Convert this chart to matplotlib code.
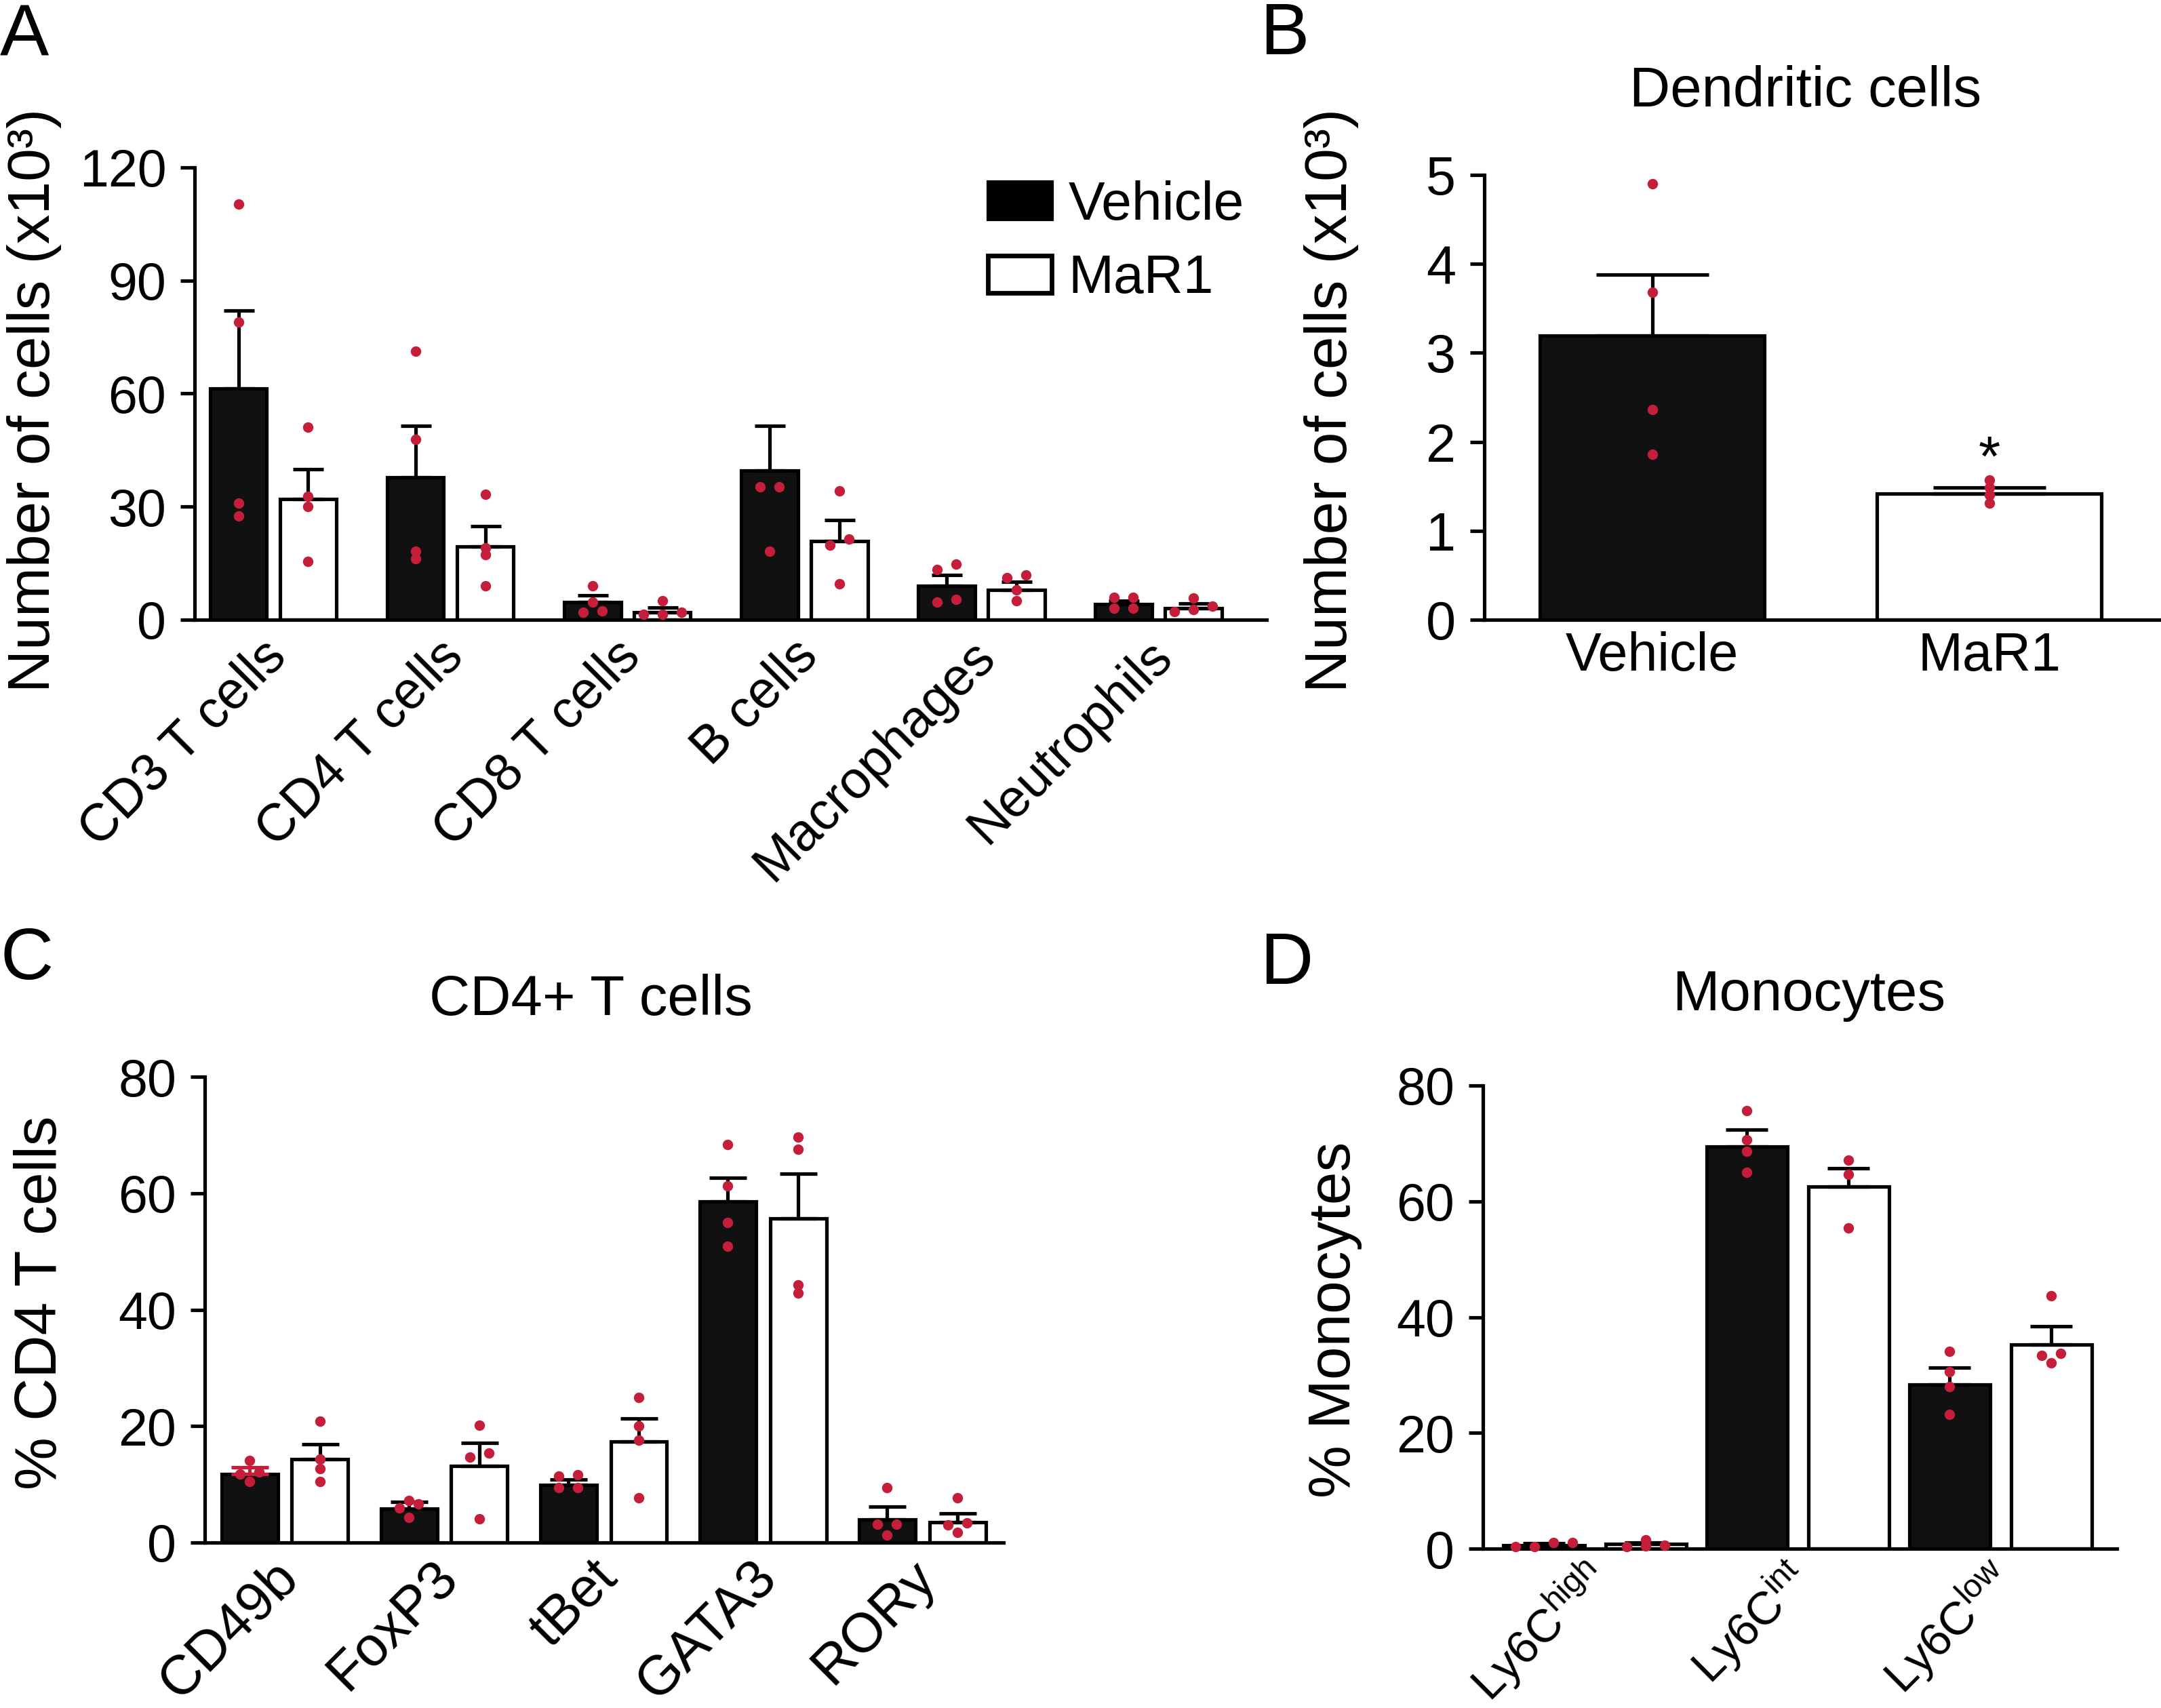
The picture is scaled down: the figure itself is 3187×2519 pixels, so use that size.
import matplotlib
matplotlib.use("Agg")
import matplotlib.pyplot as plt
import matplotlib.transforms as mtrans
import numpy as np
from matplotlib.patches import Patch

plt.rcParams["font.family"] = ["Liberation Sans", "DejaVu Sans"]
plt.rcParams["mathtext.fontset"] = "custom"
plt.rcParams["mathtext.rm"] = "Liberation Sans"
plt.rcParams["mathtext.it"] = "Liberation Sans:italic"
plt.rcParams["mathtext.default"] = "regular"

# ---- data ----
# A: cell counts (x10^3)
cells_a = ["CD3 T cells", "CD4 T cells", "CD8 T cells", "B cells", "Macrophages", "Neutrophils"]
veh_a = [61.4, 37.7, 4.6, 39.6, 9.0, 4.2]
veh_a_sem = [20.6, 13.8, 1.9, 11.9, 2.8, 0.9]
mar_a = [32.0, 19.4, 2.0, 20.9, 7.9, 3.0]
mar_a_sem = [7.9, 5.5, 1.3, 5.5, 2.2, 1.3]
veh_a_pts = [[110.2, 79.0, 30.9, 27.5], [71.3, 47.8, 18.1, 16.2], [9.0, 4.6, 2.4, 1.9],
             [35.2, 35.2, 18.2], [14.8, 13.4, 5.4, 4.6], [6.0, 6.0, 3.0, 3.0]]
mar_a_pts = [[51.1, 32.7, 30.0, 15.4], [33.3, 19.0, 17.3, 9.0], [5.0, 1.9, 1.5, 1.5],
             [34.2, 21.4, 19.8, 9.6], [11.8, 11.2, 7.9, 5.0], [5.7, 3.6, 2.7, 2.1]]

# B: dendritic cells (x10^3)
groups_b = ["Vehicle", "MaR1"]
mean_b = [3.19, 1.42]
sem_b = [0.69, 0.07]
pts_b = [[4.90, 3.68, 2.36, 1.86], [1.57, 1.49, 1.40, 1.31]]

# C: % CD4 T cells
markers_c = ["CD49b", "FoxP3", "tBet", "GATA3", "RORy"]
veh_c = [11.8, 5.8, 9.9, 58.6, 4.0]
veh_c_sem = [1.1, 1.2, 0.9, 4.0, 2.2]
mar_c = [14.3, 13.2, 17.4, 55.7, 3.5]
mar_c_sem = [2.6, 3.9, 3.9, 7.7, 1.5]
veh_c_pts = [[14.1, 12.1, 11.8, 10.5], [7.2, 6.6, 5.9, 4.3], [11.6, 11.4, 9.4, 9.4],
             [68.3, 61.2, 55.0, 50.9], [9.4, 3.2, 3.2, 1.3]]
mar_c_pts = [[20.9, 14.3, 12.7, 10.5], [20.2, 15.4, 14.7, 4.1], [24.9, 20.0, 17.6, 7.7],
             [69.6, 67.5, 44.3, 42.8], [7.7, 3.4, 3.0, 1.8]]

# D: % monocytes
subsets_d = [r"Ly6C$^{\mathrm{high}}$", r"Ly6C$^{\mathrm{int}}$", r"Ly6C$^{\mathrm{low}}$"]
veh_d = [0.6, 69.5, 28.4]
veh_d_sem = [0.3, 2.9, 2.9]
mar_d = [0.8, 62.6, 35.2]
mar_d_sem = [0.3, 3.1, 3.2]
veh_d_pts = [[1.1, 1.1, 0.4, 0.3], [75.7, 70.6, 68.6, 65.0], [34.1, 30.6, 28.0, 23.2]]
mar_d_pts = [[1.5, 0.6, 0.5, 0.4], [67.1, 64.7, 55.4], [43.7, 33.7, 33.4, 32.1]]

DOT = "#c41e3a"
BLACK = "#111111"
LW = 1.25
TICK_FS = 18.5
LABEL_FS = 21


def swarm(ax, x0, vals, step_px=28, mindist_px=9):
    # spread dots that would sit on top of each other into a row
    p0 = ax.transData.transform((0, 0))
    p1 = ax.transData.transform((1, 1))
    px_x = p1[0] - p0[0]
    px_y = p1[1] - p0[1]
    vals = sorted(vals)
    xs, ys = [], []
    i = 0
    while i < len(vals):
        row = [vals[i]]
        j = i + 1
        while j < len(vals) and (vals[j] - vals[i]) * px_y < mindist_px:
            row.append(vals[j])
            j += 1
        n = len(row)
        for k, v in enumerate(row):
            xs.append(x0 + (k - (n - 1) / 2) * step_px / px_x)
            ys.append(v)
        i = j
    return xs, ys


def style_axes(ax):
    for s in ["top", "right"]:
        ax.spines[s].set_visible(False)
    for s in ["left", "bottom"]:
        ax.spines[s].set_linewidth(LW)
    ax.tick_params(axis="y", length=5, width=LW, pad=5, labelsize=TICK_FS)
    ax.tick_params(axis="x", length=0, labelsize=TICK_FS)


def shift_xlabels(ax, dx_pt):
    off = mtrans.ScaledTranslation(dx_pt / 72, 0, fig.dpi_scale_trans)
    for lbl in ax.get_xticklabels():
        lbl.set_transform(lbl.get_transform() + off)


def bars_with_dots(ax, xs, means, sems, pts, color, width, capsize, ecolors=None):
    ax.bar(xs, means, width=width, color=color, edgecolor="black", linewidth=LW, zorder=2)
    for i, (x, m, s) in enumerate(zip(xs, means, sems)):
        ec = ecolors[i] if ecolors else "black"
        ax.errorbar([x], [m], yerr=[[0], [s]], fmt="none", ecolor=ec, elinewidth=LW,
                    capsize=capsize, capthick=LW, zorder=3)
    for x, vals in zip(xs, pts):
        px, py = swarm(ax, x, vals)
        ax.plot(px, py, "o", ms=3.4, color=DOT, mec=DOT, mew=0.3, zorder=4, clip_on=False)


W, H = 3187, 2519
fig = plt.figure(figsize=(W / 300, H / 300), dpi=300)


def rect(left, right, top, bottom):
    return [left / W, 1 - bottom / H, (right - left) / W, (bottom - top) / H]


# ---- Panel A ----
axA = fig.add_axes(rect(287, 1868, 247, 914))
style_axes(axA)
axA.set_xlim(-0.444, 5.61)
axA.set_ylim(0, 120)
xa = np.arange(len(cells_a))
bars_with_dots(axA, xa - 0.197, veh_a, veh_a_sem, veh_a_pts, BLACK, 0.32, 5.4)
bars_with_dots(axA, xa + 0.197, mar_a, mar_a_sem, mar_a_pts, "white", 0.32, 5.4)
axA.set_yticks([0, 30, 60, 90, 120])
axA.set_xticks(xa, cells_a, rotation=45, ha="right", va="top", rotation_mode="anchor")
axA.tick_params(axis="x", pad=4)
shift_xlabels(axA, -4.3)
handles = [Patch(facecolor="black", edgecolor="black", linewidth=LW),
           Patch(facecolor="white", edgecolor="black", linewidth=LW * 1.3)]
axA.legend(handles, ["Vehicle", "MaR1"], loc="upper left", bbox_to_anchor=(0.740, 0.972),
           frameon=False, fontsize=19.3, handlelength=1.17, handleheight=0.68,
           handletextpad=0.3, labelspacing=0.42, borderpad=0, borderaxespad=0)

# ---- Panel B ----
axB = fig.add_axes(rect(2189, 3185, 258, 914))
style_axes(axB)
axB.set_xlim(-0.498, 1.506)
axB.set_ylim(0, 5)
xb = np.arange(len(groups_b))
axB.bar(xb, mean_b, width=0.665, color=[BLACK, "white"], edgecolor="black",
        linewidth=LW, zorder=2)
for x, m, s in zip(xb, mean_b, sem_b):
    axB.errorbar([x], [m], yerr=[[0], [s]], fmt="none", ecolor="black", elinewidth=LW,
                 capsize=20, capthick=LW, zorder=3)
for x, vals in zip(xb, pts_b):
    px, py = swarm(axB, x, vals)
    axB.plot(px, py, "o", ms=3.4, color=DOT, mec=DOT, mew=0.3, zorder=4)
axB.set_yticks(range(6))
axB.set_xticks(xb, groups_b)
axB.tick_params(axis="x", pad=4, labelsize=19)
axB.tick_params(axis="y", labelsize=19)
axB.text(1, 1.62, "*", ha="center", va="baseline", fontsize=20)

# ---- Panel C ----
axC = fig.add_axes(rect(302, 1480, 1588, 2275))
style_axes(axC)
axC.set_xlim(-0.502, 4.51)
axC.set_ylim(0, 80)
xc = np.arange(len(markers_c))
bars_with_dots(axC, xc - 0.221, veh_c, veh_c_sem, veh_c_pts, BLACK, 0.353, 6.6,
               ecolors=[DOT, "black", "black", "black", "black"])
bars_with_dots(axC, xc + 0.221, mar_c, mar_c_sem, mar_c_pts, "white", 0.353, 6.6)
axC.set_yticks([0, 20, 40, 60, 80])
axC.set_xticks(xc, markers_c, rotation=45, ha="right", va="top", rotation_mode="anchor")
axC.tick_params(axis="x", pad=3, labelsize=19.5)
shift_xlabels(axC, -4.5)

# ---- Panel D ----
axD = fig.add_axes(rect(2187, 3122, 1601, 2284))
style_axes(axD)
axD.set_xlim(-0.552, 2.575)
axD.set_ylim(0, 80)
xd = np.arange(len(subsets_d))
bars_with_dots(axD, xd - 0.251, veh_d, veh_d_sem, veh_d_pts, BLACK, 0.398, 7.5)
bars_with_dots(axD, xd + 0.251, mar_d, mar_d_sem, mar_d_pts, "white", 0.398, 7.5)
axD.set_yticks([0, 20, 40, 60, 80])
axD.set_xticks(xd, subsets_d, rotation=45, ha="right", va="top", rotation_mode="anchor")
axD.tick_params(axis="x", pad=1.5, labelsize=16.5)
shift_xlabels(axD, -5)

# ---- labels, titles, panel letters ----
fig.text(51 / W, 1 - 590 / H, "Number of cells (x10³)", rotation=90, ha="center", va="center",
         fontsize=LABEL_FS)
fig.text(1963 / W, 1 - 590 / H, "Number of cells (x10³)", rotation=90, ha="center", va="center",
         fontsize=LABEL_FS)
fig.text(61 / W, 1 - 1921 / H, "% CD4 T cells", rotation=90, ha="center", va="center",
         fontsize=LABEL_FS)
fig.text(1968 / W, 1 - 1946 / H, "% Monocytes", rotation=90, ha="center", va="center",
         fontsize=LABEL_FS)

fig.text(2663 / W, 1 - 157 / H, "Dendritic cells", ha="center", va="baseline", fontsize=20)
fig.text(871 / W, 1 - 1497 / H, "CD4+ T cells", ha="center", va="baseline", fontsize=20)
fig.text(2668 / W, 1 - 1490 / H, "Monocytes", ha="center", va="baseline", fontsize=20)

for letter, x, y in [("A", 0, 82), ("B", 1858, 80), ("C", 0, 1444), ("D", 1858, 1451)]:
    fig.text(x / W, 1 - y / H, letter, ha="left", va="baseline", fontsize=26)

fig.savefig("out.png", dpi=300)
